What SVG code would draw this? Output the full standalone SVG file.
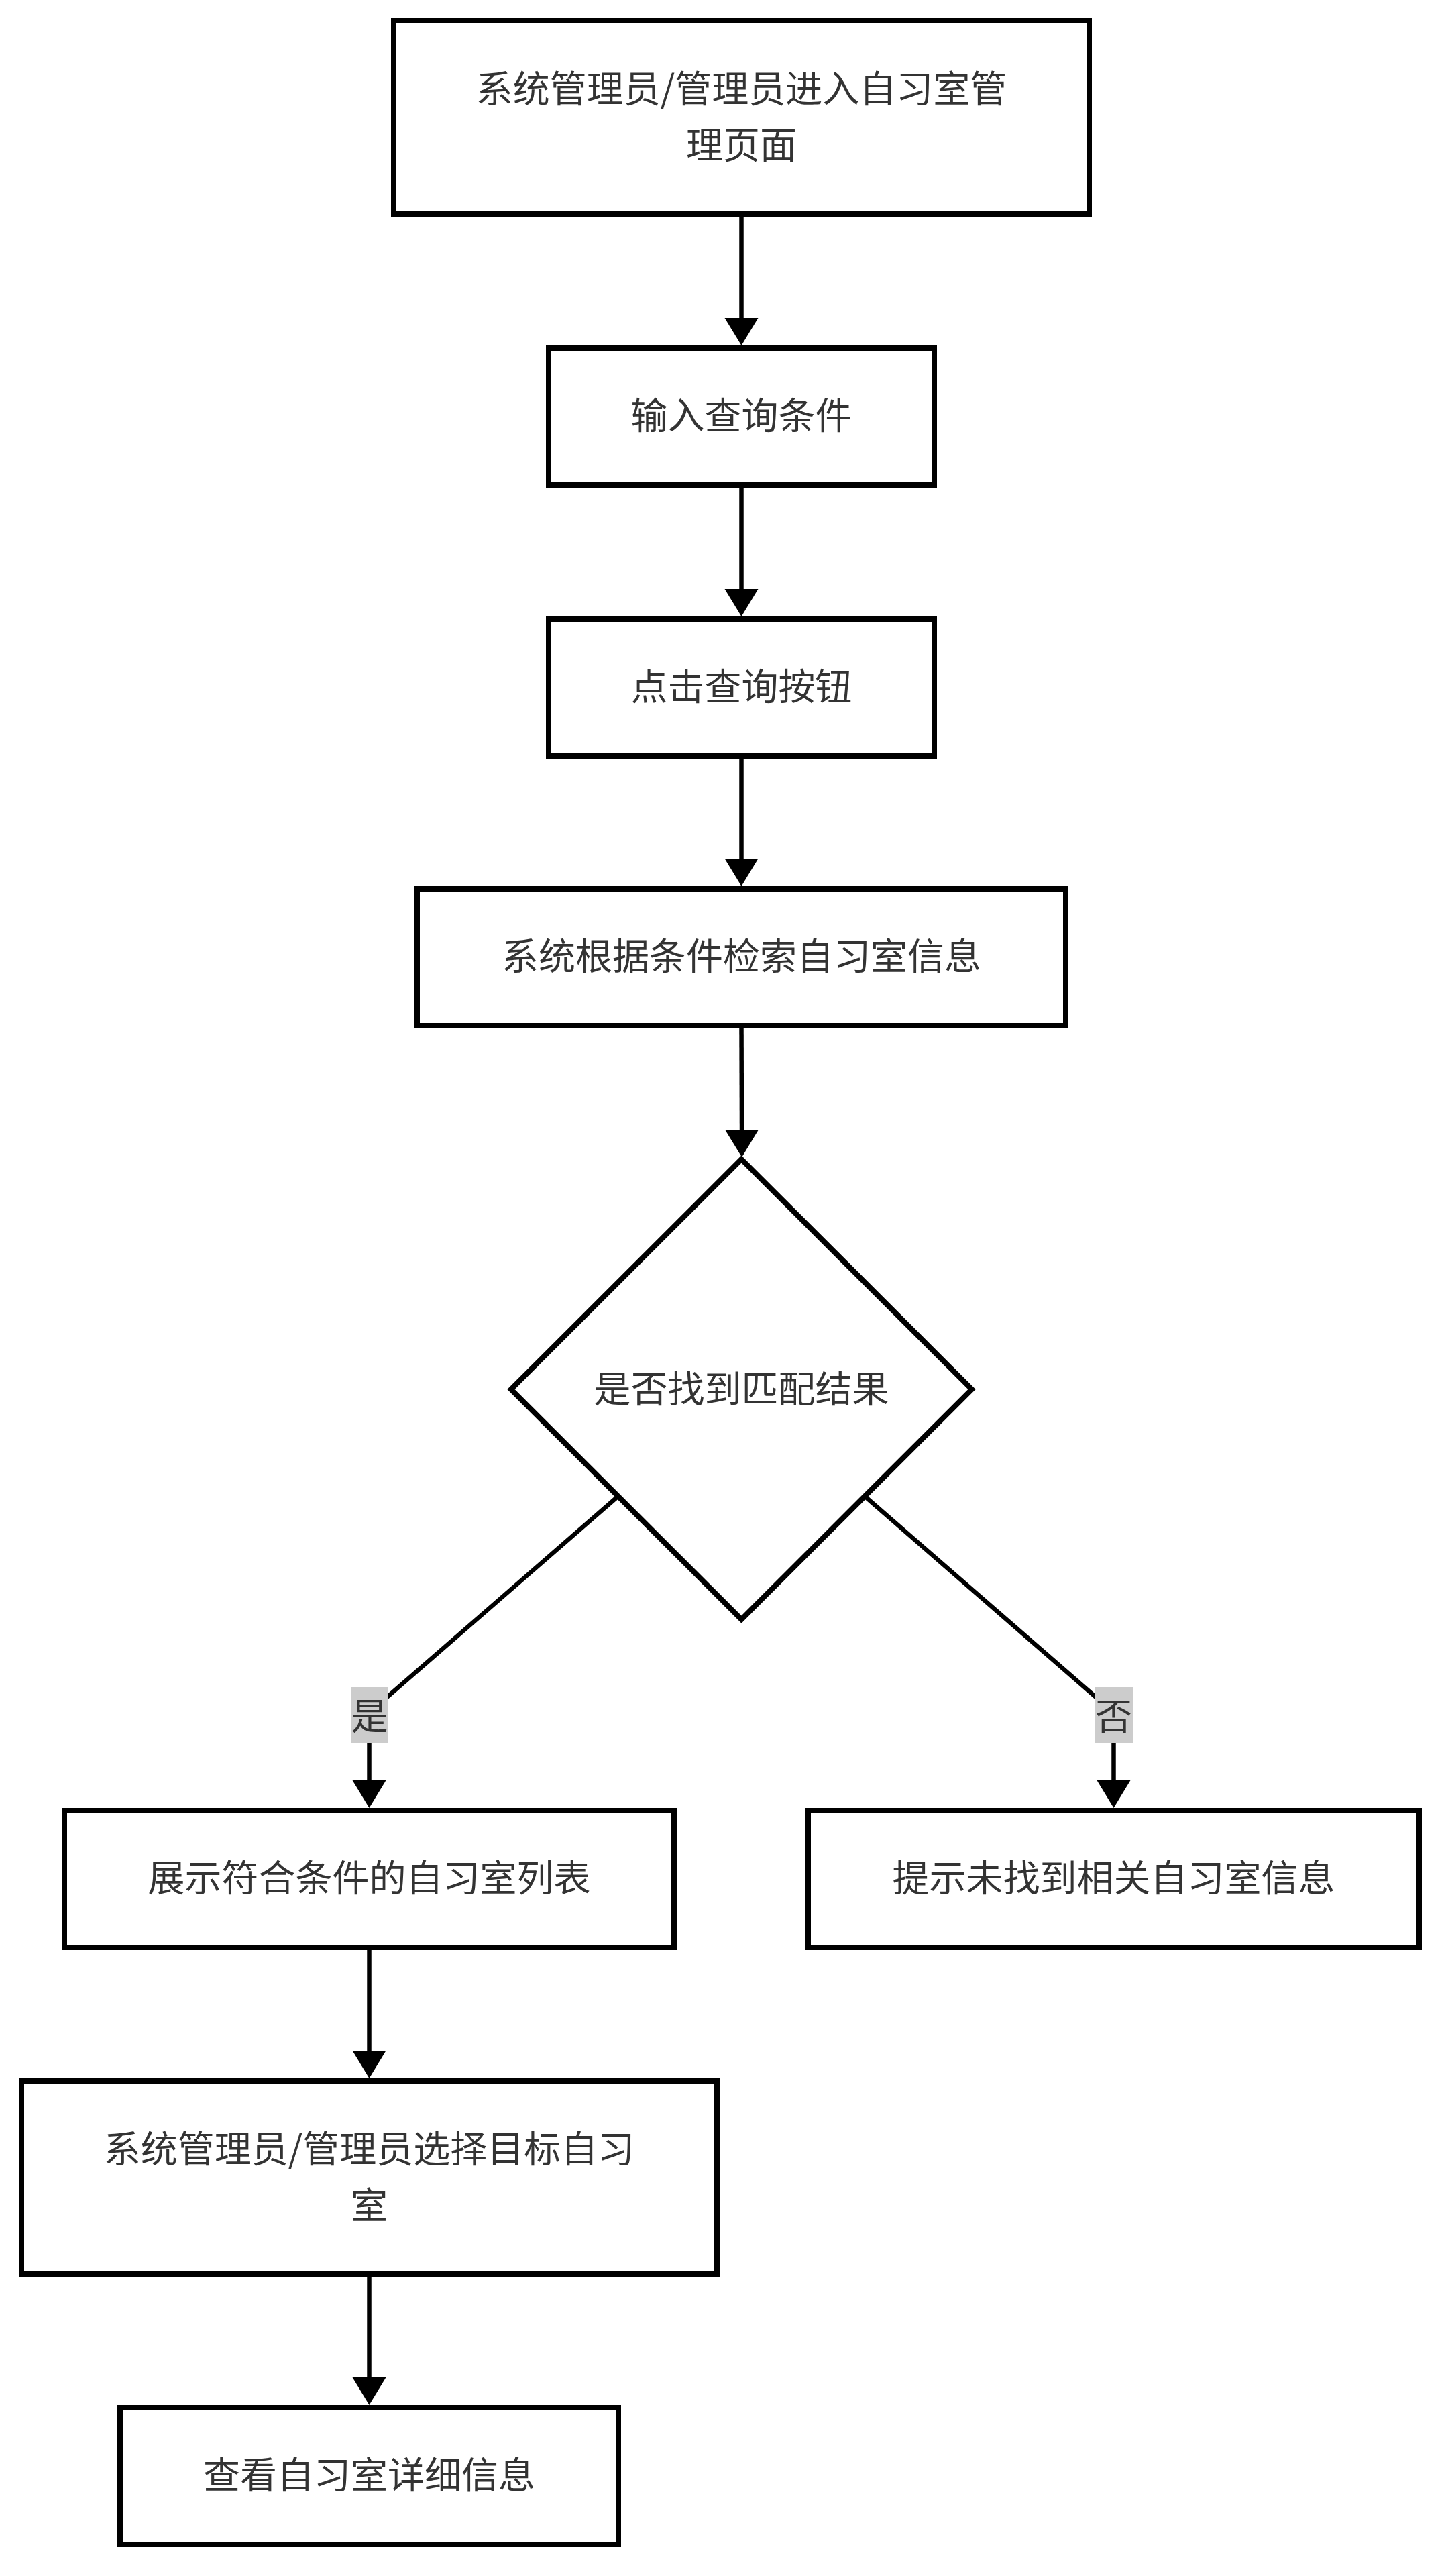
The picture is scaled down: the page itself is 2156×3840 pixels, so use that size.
<svg xmlns="http://www.w3.org/2000/svg" width="2156" height="3840" viewBox="0 0 2156 3840">
<style>
.node{fill:#ffffff;stroke:#000000;stroke-width:8}
.t{font-family:"Noto Sans CJK SC","Noto Sans",sans-serif;font-size:55px;fill:#333333;text-anchor:middle;dominant-baseline:central}
.edge{fill:none;stroke:#000000;stroke-width:6.5;marker-end:url(#arrow)}
.lbl{fill:#cccccc}
</style>
<defs>
<marker id="arrow" markerUnits="userSpaceOnUse" markerWidth="42" markerHeight="52" refX="0" refY="25" orient="auto" overflow="visible">
<path d="M0,0 L41,25 L0,50 Z" fill="#000000"/>
</marker>
</defs>
<rect width="2156" height="3840" fill="#ffffff"/>
<g id="connectors">
<path class="edge" d="M1105.5,323 L1105.5,474"/>
<path class="edge" d="M1105.5,727 L1105.5,878"/>
<path class="edge" d="M1105.5,1131 L1105.5,1280"/>
<path class="edge" d="M1105.5,1533 L1106,1684"/>
<path class="edge" d="M921,2231 L550.5,2553 L550.5,2654"/>
<path class="edge" d="M1290,2231 L1660.5,2553 L1660.5,2654"/>
<path class="edge" d="M550.5,2907 L550.5,3057"/>
<path class="edge" d="M550.5,3394 L550.5,3544"/>
<g id="label-yes">
<rect class="lbl" x="523" y="2515" width="56" height="84"/>
<text class="t" x="551" y="2554">是</text>
</g>
<g id="label-no">
<rect class="lbl" x="1632" y="2515" width="57" height="84"/>
<text class="t" x="1660.5" y="2554">否</text>
</g>
</g>
<g id="n1">
<rect class="node" x="587" y="31" width="1037" height="288"/>
<text class="t" x="1105.5" y="128">系统管理员/管理员进入自习室管</text>
<text class="t" x="1105.5" y="212">理页面</text>
</g>
<g id="n2">
<rect class="node" x="818" y="519" width="575" height="204"/>
<text class="t" x="1105.5" y="615">输入查询条件</text>
</g>
<g id="n3">
<rect class="node" x="818" y="923" width="575" height="204"/>
<text class="t" x="1105.5" y="1019">点击查询按钮</text>
</g>
<g id="n4">
<rect class="node" x="622" y="1325" width="967" height="204"/>
<text class="t" x="1105.5" y="1421">系统根据条件检索自习室信息</text>
</g>
<g id="n5">
<polygon class="node" points="1105.5,1728 1449,2071 1105.5,2414 762,2071"/>
<text class="t" x="1105.5" y="2066">是否找到匹配结果</text>
</g>
<g id="n6">
<rect class="node" x="96" y="2699" width="909" height="204"/>
<text class="t" x="550.5" y="2795">展示符合条件的自习室列表</text>
</g>
<g id="n7">
<rect class="node" x="1205" y="2699" width="911" height="204"/>
<text class="t" x="1660.5" y="2795">提示未找到相关自习室信息</text>
</g>
<g id="n8">
<rect class="node" x="32" y="3102" width="1037" height="288"/>
<text class="t" x="550.5" y="3199">系统管理员/管理员选择目标自习</text>
<text class="t" x="550.5" y="3283">室</text>
</g>
<g id="n9">
<rect class="node" x="179" y="3589" width="743" height="204"/>
<text class="t" x="550.5" y="3685">查看自习室详细信息</text>
</g>
</svg>
